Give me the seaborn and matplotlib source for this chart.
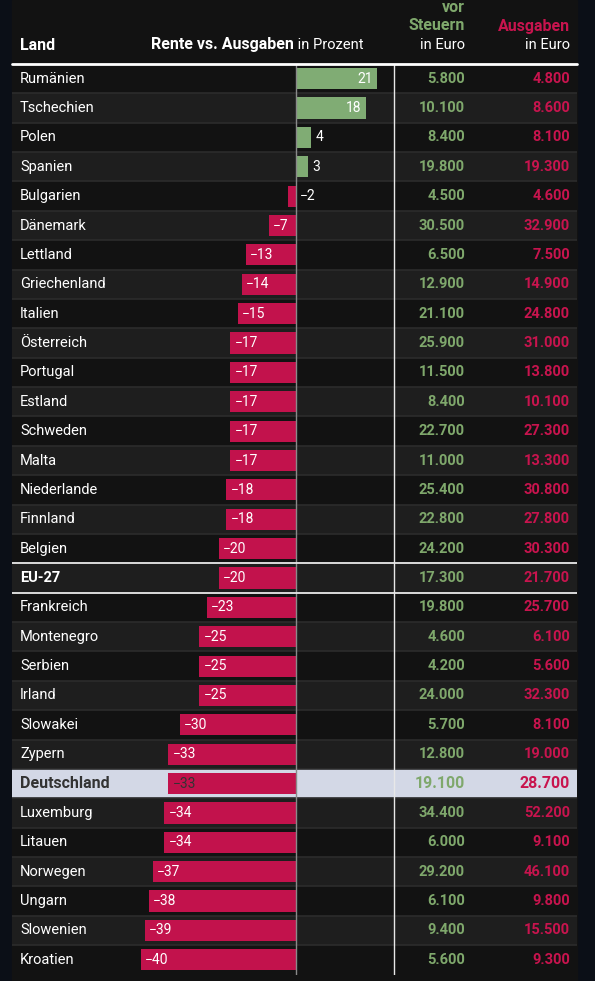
import pandas as pd
import matplotlib.pyplot as plt
import matplotlib.transforms as mtrans
from matplotlib.patches import Rectangle
import seaborn as sns

# data
laender = ['Rumänien', 'Tschechien', 'Polen', 'Spanien', 'Bulgarien', 'Dänemark',
           'Lettland', 'Griechenland', 'Italien', 'Österreich', 'Portugal', 'Estland',
           'Schweden', 'Malta', 'Niederlande', 'Finnland', 'Belgien', 'EU-27',
           'Frankreich', 'Montenegro', 'Serbien', 'Irland', 'Slowakei', 'Zypern',
           'Deutschland', 'Luxemburg', 'Litauen', 'Norwegen', 'Ungarn', 'Slowenien',
           'Kroatien']
differenz = [21, 18, 4, 3, -2, -7, -13, -14, -15, -17, -17, -17, -17, -17, -18, -18,
             -20, -20, -23, -25, -25, -25, -30, -33, -33, -34, -34, -37, -38, -39, -40]
rente = [5800, 10100, 8400, 19800, 4500, 30500, 6500, 12900, 21100, 25900, 11500,
         8400, 22700, 11000, 25400, 22800, 24200, 17300, 19800, 4600, 4200, 24000,
         5700, 12800, 19100, 34400, 6000, 29200, 6100, 9400, 5600]
ausgaben = [4800, 8600, 8100, 19300, 4600, 32900, 7500, 14900, 24800, 31000, 13800,
            10100, 27300, 13300, 30800, 27800, 30300, 21700, 25700, 6100, 5600, 32300,
            8100, 19000, 28700, 52200, 9100, 46100, 9800, 15500, 9300]

df = pd.DataFrame({'land': laender, 'diff': differenz, 'rente': rente, 'ausgaben': ausgaben})
df['vorzeichen'] = ['plus' if d > 0 else 'minus' for d in df['diff']]

# farben
gruen = '#80ac74'
gruen_text = '#7fa86c'
rot = '#c2124c'
rot_text = '#c8144e'
hintergrund = '#0b0f17'
panel = '#121212'
zeile_hell = '#1e1e1e'
highlight = '#d3d8e6'
dunkel_text = '#333333'

sns.set_theme(style='white')
plt.rcParams['font.family'] = ['Roboto', 'DejaVu Sans']

W, H = 595, 981
fig = plt.figure(figsize=(W / 100, H / 100), dpi=100, facecolor=hintergrund)
fig.patches.append(Rectangle((12 / W, 0), 565 / W, 1, transform=fig.transFigure,
                             color=panel, zorder=-10))

top_px, bot_px = 64, 974.5
ax = fig.add_axes([12 / W, 1 - bot_px / H, 565 / W, (bot_px - top_px) / H])
ax.set_facecolor('none')
ax.set_zorder(1)

px_per_unit = 3.874
xmin = -(296 - 12) / px_per_unit
xmax = (577 - 296) / px_per_unit
n = len(df)

# zeilenhintergruende
for i in range(n):
    if df['land'][i] == 'Deutschland':
        ax.axhspan(i - 0.5, i + 0.5, color=highlight, zorder=0, lw=0)
    elif i % 2 == 1:
        ax.axhspan(i - 0.5, i + 0.5, color=zeile_hell, zorder=0, lw=0)
    if i > 0:
        ax.axhline(i - 0.5, color='#2c2c2c', lw=1.2, zorder=0.5)

sns.barplot(data=df, x='diff', y='land', hue='vorzeichen', palette={'plus': gruen, 'minus': rot},
            orient='h', width=0.72, dodge=False, legend=False, ax=ax, zorder=2,
            linewidth=0, saturation=1)

ax.set_xlim(xmin, xmax)
ax.set_ylim(n - 0.5, -0.5)
ax.axis('off')

# vertikale linien
ax.axvline(0, color='#8a8a8a', lw=1, zorder=3)
ax.axvline((394 - 296) / px_per_unit, color='#e8e8e8', lw=1, zorder=3)

# EU-27 linien
eu = laender.index('EU-27')
ax.axhline(eu - 0.5, color='#e8e8e8', lw=1.3, zorder=3)
ax.axhline(eu + 0.5, color='#e8e8e8', lw=1.3, zorder=3)

tr = mtrans.blended_transform_factory(fig.transFigure, ax.transData)
pad = 1.1

for i, row in df.iterrows():
    d = row['diff']
    ist_de = row['land'] == 'Deutschland'
    txtcol = dunkel_text if ist_de else 'white'
    label = f'{d}'.replace('-', '\u2212')
    if d > 0:
        if d >= 5:
            ax.text(d - pad, i, label, ha='right', va='center', fontsize=10, color='white', zorder=4)
        else:
            ax.text(d + pad, i, label, ha='left', va='center', fontsize=10, color='white', zorder=4)
    else:
        if d <= -5:
            ax.text(d + pad, i, label, ha='left', va='center', fontsize=10, color=txtcol, zorder=4)
        else:
            ax.text(pad, i, label, ha='left', va='center', fontsize=10, color='white', zorder=4)

    gewicht = 'bold' if row['land'] in ('EU-27', 'Deutschland') else 'normal'
    groesse = 11.5 if ist_de else 10.5
    ax.text(20 / W, i, row['land'], transform=tr, ha='left', va='center',
            fontsize=groesse, color=txtcol, fontweight=gewicht, zorder=4)
    r_txt = f"{row['rente']:,}".replace(',', '.')
    a_txt = f"{row['ausgaben']:,}".replace(',', '.')
    ax.text(465 / W, i, r_txt, transform=tr, ha='right', va='center',
            fontsize=groesse, color=gruen_text, fontweight='bold', zorder=4)
    ax.text(570 / W, i, a_txt, transform=tr, ha='right', va='center',
            fontsize=groesse, color=rot_text, fontweight='bold', zorder=4)

# kopfzeile
fig.add_artist(plt.Line2D([12 / W, 577 / W], [1 - 64 / H, 1 - 64 / H], color='white', lw=2))

def y_fig(px):
    return 1 - px / H

fig.text(20 / W, y_fig(45), 'Land', ha='left', va='center', fontsize=11.5,
         fontweight='bold', color='white')
t_in = fig.text(363 / W, y_fig(45), ' in Prozent', ha='right', va='center', fontsize=10.5,
                color='white')
fig.canvas.draw()
bb = t_in.get_window_extent()
fig.text(bb.x0 / fig.bbox.width, y_fig(45), 'Rente vs. Ausgaben', ha='right', va='center',
         fontsize=11.5, fontweight='bold', color='white')
fig.text(465 / W, y_fig(8), 'vor', ha='right', va='center', fontsize=11.5,
         fontweight='bold', color=gruen_text)
fig.text(465 / W, y_fig(26), 'Steuern', ha='right', va='center', fontsize=11.5,
         fontweight='bold', color=gruen_text)
fig.text(465 / W, y_fig(45), 'in Euro', ha='right', va='center', fontsize=10.5, color='white')
fig.text(570 / W, y_fig(26), 'Ausgaben', ha='right', va='center', fontsize=11.5,
         fontweight='bold', color=rot_text)
fig.text(570 / W, y_fig(45), 'in Euro', ha='right', va='center', fontsize=10.5, color='white')

fig.savefig('out.png', dpi=100, facecolor=hintergrund)
